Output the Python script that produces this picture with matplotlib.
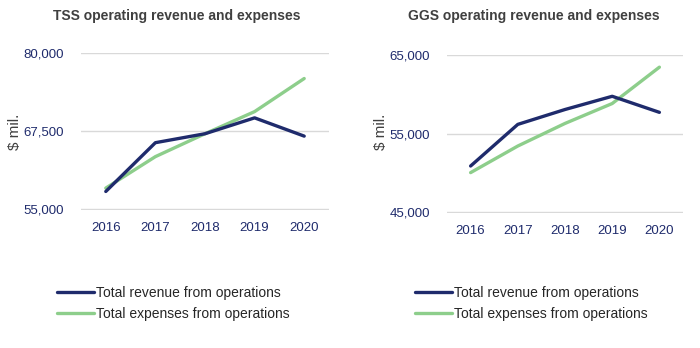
import matplotlib.pyplot as plt

plt.rcParams['font.family'] = ['Liberation Sans', 'DejaVu Sans']

years = ['2016', '2017', '2018', '2019', '2020']

tss_revenue = [57860, 65660, 67090, 69630, 66710]
tss_expenses = [58400, 63430, 67090, 70630, 75920]

ggs_revenue = [50890, 56180, 58070, 59750, 57710]
ggs_expenses = [50050, 53430, 56300, 58830, 63450]

navy = '#1F2B6C'
green = '#8DCE8B'
tick_col = '#1F2B6C'
grid_col = '#D9D9D9'

fig = plt.figure(figsize=(7, 3.48), dpi=100)
ax1 = fig.add_axes([0.1157, 0.3966, 0.3543, 0.4511])
ax2 = fig.add_axes([0.6386, 0.388, 0.3371, 0.454])


def style(ax, title, ylim, yticks, title_x):
    x = range(len(years))
    ax.set_xlim(-0.5, len(years) - 0.5)
    span = ylim[1] - ylim[0]
    ax.set_ylim(ylim[0] - span * 0.004, ylim[1])
    ax.set_yticks(yticks)
    ax.set_yticklabels([f'{v:,}' for v in yticks])
    ax.set_xticks(list(x))
    ax.set_xticklabels(years)
    ax.tick_params(length=0, labelsize=9.5, colors=tick_col)
    ax.tick_params(axis='y', pad=12)
    ax.tick_params(axis='x', pad=9)
    for s in ax.spines.values():
        s.set_visible(False)
    ax.grid(axis='y', color=grid_col, linewidth=1)
    ax.set_axisbelow(True)
    fig.text(title_x, 0.955, title, ha='center', va='center', fontsize=10,
             fontweight='bold', color='#404040')


style(ax1, 'TSS operating revenue and expenses', (55000, 80000),
      [55000, 67500, 80000], 0.252)
style(ax2, 'GGS operating revenue and expenses', (45000, 65000),
      [45000, 55000, 65000], 0.762)

for ax, rev, exp in [(ax1, tss_revenue, tss_expenses), (ax2, ggs_revenue, ggs_expenses)]:
    ax.plot(years, rev, color=navy, linewidth=2.4, solid_capstyle='round',
            label='Total revenue from operations', zorder=3)
    ax.plot(years, exp, color=green, linewidth=2.4, solid_capstyle='round',
            label='Total expenses from operations', zorder=2)
    ax.set_xlim(-0.5, len(years) - 0.5)

fig.text(0.021, 0.6221, '$ mil.', rotation=90, ha='center', va='center',
         fontsize=11, color='#404040')
fig.text(0.545, 0.6221, '$ mil.', rotation=90, ha='center', va='center',
         fontsize=11, color='#404040')

for ax, lx in [(ax1, 0.081), (ax2, 0.593)]:
    ax.legend(loc='upper left', bbox_to_anchor=(lx, 0.178), bbox_transform=fig.transFigure,
              frameon=False, fontsize=10, handlelength=2.65, handletextpad=0.15,
              borderpad=0, borderaxespad=0, labelspacing=0.5, labelcolor='#262626')

fig.savefig('out.png', dpi=100)
